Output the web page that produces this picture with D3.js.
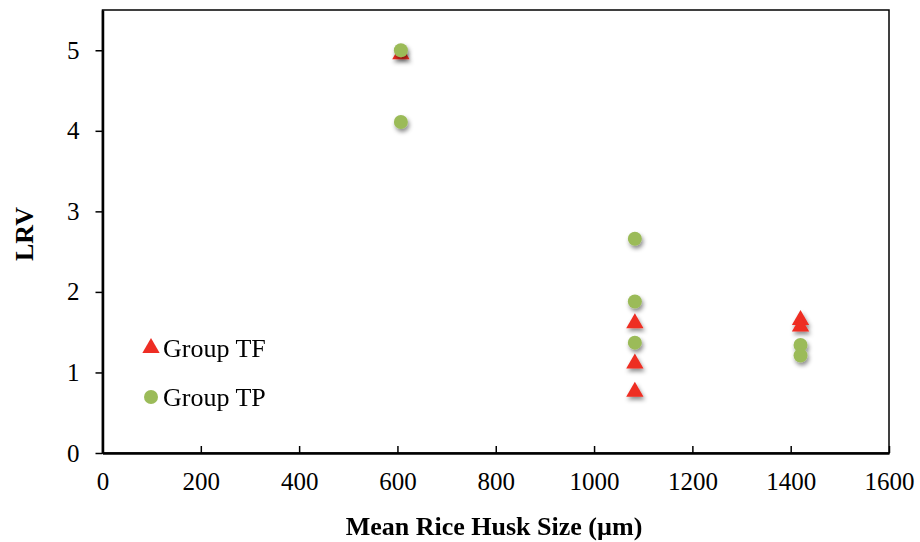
<!DOCTYPE html>
<html>
<head>
<meta charset="utf-8">
<script src="https://cdn.jsdelivr.net/npm/d3@7"></script>
<style>
  body { margin: 0; background: #fff; }
  svg { display: block; }
  text { font-family: "Liberation Serif", "Times New Roman", serif; fill: #000; }
</style>
</head>
<body>
<svg id="plot" width="920" height="542"></svg>
<script>
let width = 920, height = 542;
let margin = {top: 10, right: 31, bottom: 89, left: 102.5};

let xTicks = [0, 200, 400, 600, 800, 1000, 1200, 1400, 1600];
let yTicks = [0, 1, 2, 3, 4, 5];

// Group TF (triangles)
let tfSize = [607, 1083, 1083, 1083, 1420, 1420];
let tfLRV = [4.95, 1.61, 1.11, 0.76, 1.65, 1.57];

// Group TP (circles)
let tpSize = [607, 607, 1083, 1083, 1083, 1420, 1420];
let tpLRV = [5.0, 4.11, 2.66, 1.88, 1.37, 1.34, 1.21];

let red = "#ee2d24";
let green = "#9bbb59";

let svg = d3.select("#plot");

let x = d3.scaleLinear()
    .domain([0, 1600])
    .range([margin.left, width - margin.right]);

let y = d3.scaleLinear()
    .domain([0, 5.5])
    .range([height - margin.bottom, margin.top]);

let defs = svg.append("defs");
defs.append("filter")
    .attr("id", "shadow")
    .attr("x", "-50%").attr("y", "-50%")
    .attr("width", "200%").attr("height", "200%")
  .append("feDropShadow")
    .attr("dx", 1.5)
    .attr("dy", 3)
    .attr("stdDeviation", 2)
    .attr("flood-color", "#000")
    .attr("flood-opacity", 0.45);

// frame
svg.append("rect")
    .attr("x", x(0))
    .attr("y", y(5.5))
    .attr("width", x(1600) - x(0))
    .attr("height", y(0) - y(5.5))
    .attr("fill", "none")
    .attr("stroke", "#000")
    .attr("stroke-width", 1.5);

let xAxis = g => g
    .attr("transform", `translate(0, ${y(0)})`)
    .call(d3.axisBottom(x)
            .tickValues(xTicks)
            .tickFormat(d3.format("d"))
            .tickSizeInner(-7)
            .tickSizeOuter(0)
            .tickPadding(19))
    .call(g => g.select(".domain").attr("stroke-width", 2.5))
    .call(g => g.selectAll(".tick line").attr("stroke-width", 1.5))
    .call(g => g.selectAll(".tick text").attr("font-size", 25));

let yAxis = g => g
    .attr("transform", `translate(${x(0)}, 0)`)
    .call(d3.axisLeft(y)
            .tickValues(yTicks)
            .tickFormat(d3.format("d"))
            .tickSizeInner(7)
            .tickSizeOuter(0)
            .tickPadding(16))
    .call(g => g.select(".domain").attr("stroke-width", 2.5))
    .call(g => g.selectAll(".tick line").attr("stroke-width", 1.5))
    .call(g => g.selectAll(".tick text").attr("font-size", 25));

svg.append("g").call(xAxis);
svg.append("g").call(yAxis);

let tri = d3.symbol().type(d3.symbolTriangle).size(130);

let tfData = tfSize.map((s, i) => ({size: s, lrv: tfLRV[i]}));
let tpData = tpSize.map((s, i) => ({size: s, lrv: tpLRV[i]}));

svg.append("g")
    .attr("filter", "url(#shadow)")
    .selectAll("path")
    .data(tfData)
    .join("path")
      .attr("d", tri)
      .attr("transform", d => `translate(${x(d.size)}, ${y(d.lrv)})`)
      .attr("fill", red);

svg.append("g")
    .attr("filter", "url(#shadow)")
    .selectAll("circle")
    .data(tpData)
    .join("circle")
      .attr("cx", d => x(d.size))
      .attr("cy", d => y(d.lrv))
      .attr("r", 7)
      .attr("fill", green);

// legend
let legend = svg.append("g");
legend.append("path")
    .attr("d", tri)
    .attr("transform", "translate(151, 348)")
    .attr("fill", red);
legend.append("text")
    .attr("x", 163)
    .attr("y", 357)
    .attr("font-size", 26)
    .text("Group TF");
legend.append("circle")
    .attr("cx", 151)
    .attr("cy", 397)
    .attr("r", 7)
    .attr("fill", green);
legend.append("text")
    .attr("x", 163)
    .attr("y", 406)
    .attr("font-size", 26)
    .text("Group TP");

// axis titles
svg.append("text")
    .attr("x", 494)
    .attr("y", 535)
    .attr("text-anchor", "middle")
    .attr("font-size", 26)
    .attr("font-weight", "bold")
    .text("Mean Rice Husk Size (µm)");

svg.append("text")
    .attr("transform", "translate(33, 234) rotate(-90)")
    .attr("text-anchor", "middle")
    .attr("font-size", 26)
    .attr("font-weight", "bold")
    .text("LRV");
</script>
</body>
</html>
